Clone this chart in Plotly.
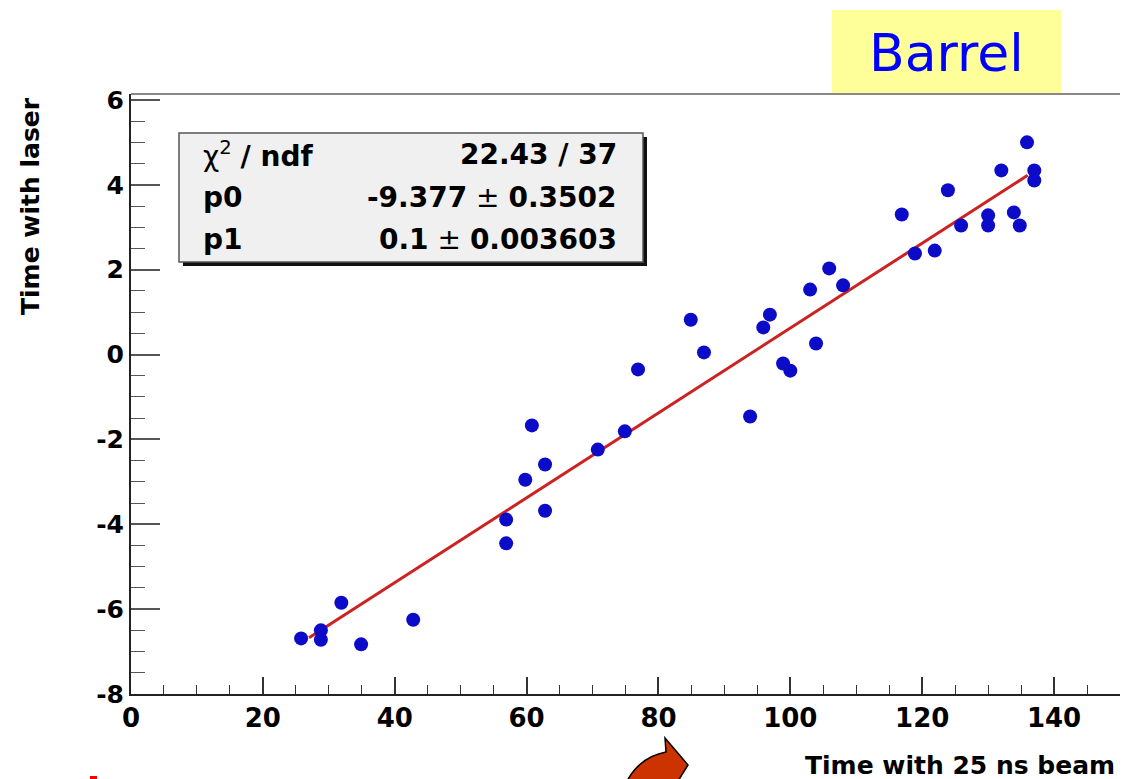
import plotly.graph_objects as go

# ---------------- data ----------------
time_beam = [25.8, 28.8, 28.8, 31.9, 34.9, 42.8, 56.9, 56.9, 59.8, 60.8,
             62.8, 62.8, 70.8, 74.9, 76.9, 84.9, 86.9, 93.9, 95.9, 96.9,
             98.9, 100.0, 103.0, 103.9, 105.9, 108.0, 116.9, 118.9, 121.9, 123.9,
             125.9, 130.0, 130.0, 132.0, 133.9, 134.8, 135.9, 137.0, 137.0]
time_laser = [-6.69, -6.50, -6.72, -5.85, -6.83, -6.25, -3.89, -4.45, -2.95, -1.67,
              -2.59, -3.68, -2.24, -1.81, -0.35, 0.82, 0.05, -1.46, 0.64, 0.94,
              -0.21, -0.38, 1.53, 0.26, 2.03, 1.63, 3.30, 2.38, 2.45, 3.87,
              3.04, 3.28, 3.04, 4.34, 3.35, 3.04, 5.00, 4.34, 4.10]
p0 = -9.377
p1 = 0.1
fit_range = [27.0, 136.0]
stat_labels = ["χ<sup>2</sup> <b>/ ndf</b>", "<b>p0</b>", "<b>p1</b>"]
stat_values = ["<b>22.43 / 37</b>", "<b>-9.377</b> ± <b>0.3502</b>", "<b>0.1</b> ± <b>0.003603</b>"]
x_ticks = [0, 20, 40, 60, 80, 100, 120, 140]
y_ticks = [-8, -6, -4, -2, 0, 2, 4, 6]
x_ticktext = [str(v) for v in x_ticks]
y_ticktext = [str(v) for v in y_ticks]

# ---------------- geometry helpers ----------------
W, H = 1122, 779
L, R, T, B = 131, 2, 94, 85
PW, PH = W - L - R, H - T - B


def fx(px):
    return (px - L) / PW


def fy(py):
    return (H - B - py) / PH


fit_x = fit_range
fit_y = [p0 + p1 * v for v in fit_range]

fig = go.Figure()
fig.add_trace(go.Scatter(x=fit_x, y=fit_y, mode="lines",
                         line=dict(color="#cc2222", width=3), showlegend=False))
fig.add_trace(go.Scatter(x=time_beam, y=time_laser, mode="markers",
                         marker=dict(color="#0b0bc8", size=14, line=dict(width=0)),
                         showlegend=False))

fig.update_xaxes(range=[0, 150], tickvals=x_ticks, ticktext=x_ticktext,
                 showgrid=False, zeroline=False,
                 showline=True, linecolor="#222222", linewidth=2,
                 ticks="inside", ticklen=17, tickcolor="#333333", tickwidth=1.5,
                 tickfont=dict(family="DejaVu Sans", size=26, color="black", weight="bold"),
                 minor=dict(dtick=5, ticks="inside", ticklen=9, tickcolor="#333333", tickwidth=1.2))
fig.update_yaxes(range=[-8, 6.14], tickvals=y_ticks, ticktext=y_ticktext,
                 showgrid=False, zeroline=False,
                 showline=True, linecolor="#222222", linewidth=2,
                 ticks="inside", ticklen=29, tickcolor="#555555", tickwidth=1.5,
                 ticklabelstandoff=0,
                 tickfont=dict(family="DejaVu Sans", size=25, color="black", weight="bold"),
                 minor=dict(dtick=0.5, ticks="inside", ticklen=14, tickcolor="#555555", tickwidth=1.2))

shapes = []
# top frame line (gray)
shapes.append(dict(type="line", xref="paper", yref="paper", x0=0, x1=1, y0=1, y1=1,
                   line=dict(color="#888888", width=2)))
# stats box shadow and box
shapes.append(dict(type="rect", xref="paper", yref="paper",
                   x0=fx(183), x1=fx(647), y0=fy(266), y1=fy(137),
                   fillcolor="#111111", line=dict(width=0)))
shapes.append(dict(type="rect", xref="paper", yref="paper",
                   x0=fx(179), x1=fx(643), y0=fy(262), y1=fy(133),
                   fillcolor="#f0f0f0", line=dict(color="#555555", width=1.5)))
# Barrel label box
shapes.append(dict(type="rect", xref="paper", yref="paper",
                   x0=fx(832), x1=fx(1061), y0=fy(93), y1=fy(10),
                   fillcolor="#ffff99", line=dict(width=0)))


def pt(x, y):
    return f"{fx(x):.5f},{fy(y):.5f}"


arrow_path = ("M " + pt(627, 781) + " Q " + pt(640, 757) + " " + pt(666, 752) +
              " L " + pt(665, 738) + " L " + pt(688, 765) + " L " + pt(678, 781) + " Z")
shapes.append(dict(type="path", xref="paper", yref="paper", path=arrow_path,
                   fillcolor="#cc3300", line=dict(color="black", width=1.5)))
# small red mark at bottom left
shapes.append(dict(type="rect", xref="paper", yref="paper",
                   x0=fx(90), x1=fx(97), y0=fy(779), y1=fy(776),
                   fillcolor="#ff0000", line=dict(width=0)))

annotations = []
row_y = [154, 197, 240]
for lab, val, yy in zip(stat_labels, stat_values, row_y):
    annotations.append(dict(xref="paper", yref="paper", x=fx(201), y=fy(yy),
                            xanchor="left", yanchor="middle", showarrow=False, text=lab,
                            font=dict(family="DejaVu Sans", size=28, color="black")))
    annotations.append(dict(xref="paper", yref="paper", x=fx(619), y=fy(yy),
                            xanchor="right", yanchor="middle", showarrow=False, text=val,
                            font=dict(family="DejaVu Sans", size=28, color="black")))
annotations.append(dict(xref="paper", yref="paper", x=fx(946), y=fy(53),
                        xanchor="center", yanchor="middle", showarrow=False, text="Barrel",
                        font=dict(family="DejaVu Sans", size=52, color="#0000ff")))
annotations.append(dict(xref="paper", yref="paper", x=fx(1117), y=fy(765),
                        xanchor="right", yanchor="middle", showarrow=False,
                        text="<b>Time with 25 ns beam</b>",
                        font=dict(family="DejaVu Sans", size=25, color="black")))
annotations.append(dict(xref="paper", yref="paper", x=fx(30), y=fy(95),
                        xanchor="center", yanchor="top", showarrow=False, textangle=-90,
                        text="<b>Time with laser</b>",
                        font=dict(family="DejaVu Sans", size=25, color="black")))

fig.update_layout(width=W, height=H, margin=dict(l=L, r=R, t=T, b=B, pad=0),
                  plot_bgcolor="white", paper_bgcolor="white",
                  shapes=shapes, annotations=annotations, showlegend=False)

fig.write_html("out.html", config={"displayModeBar": False},
               post_script="document.body.style.margin='0';")
